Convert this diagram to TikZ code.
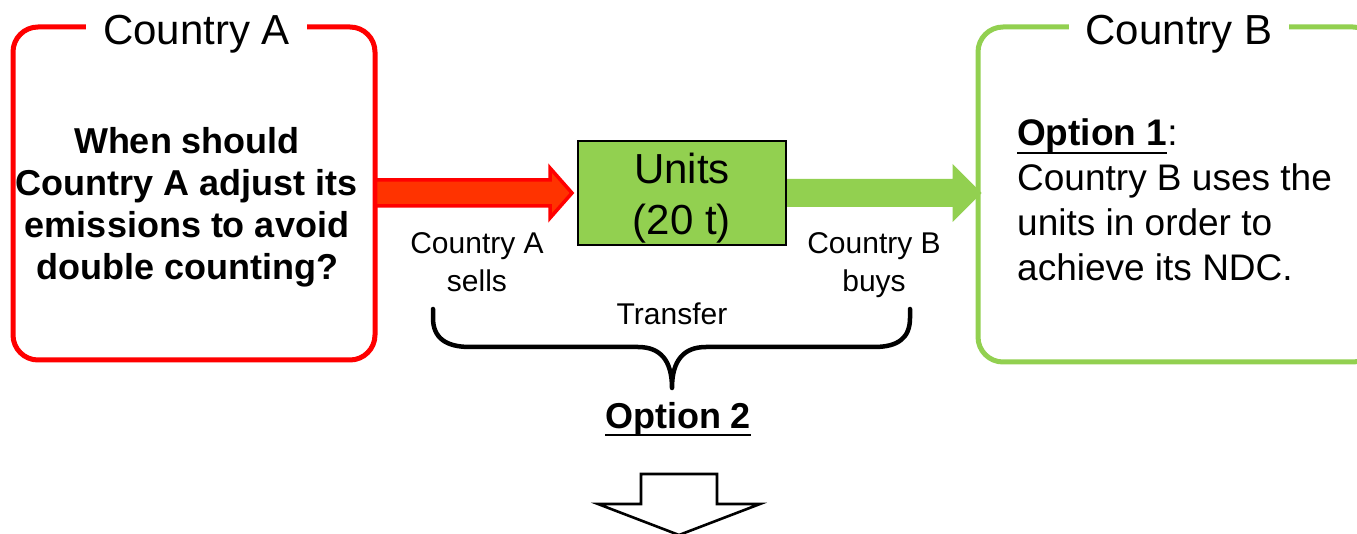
\documentclass[tikz,border=0pt]{standalone}
\usepackage{fontspec}
\setmainfont{Liberation Sans}
\usetikzlibrary{calc}
\definecolor{cred}{HTML}{FF0000}
\definecolor{corange}{HTML}{FF3300}
\definecolor{cgreen}{HTML}{92D050}
\newcommand{\fsz}[2]{\fontsize{#1}{#2}\selectfont}
% thick underline at a fixed depth below the baseline
\newcommand{\ulined}[1]{\setbox0\hbox{#1}\rlap{\rule[-8.5pt]{\wd0}{2.6pt}}\box0}

\begin{document}
\begin{tikzpicture}[x=1pt,y=-1pt,
  countrybox/.style={draw, line width=5pt, rounded corners=25pt, fill=white},
  titletext/.style={fill=white, inner xsep=17pt, inner ysep=2pt, font=\fsz{42}{50}},
  smalltext/.style={font=\fsz{30}{38.5}, align=center, anchor=base, inner sep=0pt},
  boldtext/.style={font=\bfseries\fsz{36}{42}},
  unitbox/.style={draw=black, line width=2pt, fill=cgreen, minimum width=208pt, minimum height=104pt, inner sep=0pt},
  bracestroke/.style={line width=4.5pt, line cap=round, line join=round}
]
\useasboundingbox (0,0) rectangle (1357,534);

% country frames
\node[countrybox, draw=cred, minimum width=362pt, minimum height=333pt] (boxA) at (194,193.5) {};
\node[countrybox, draw=cgreen, minimum width=400pt, minimum height=335pt] (boxB) at (1178,194.5) {};

% traded units
\node[unitbox] (units) at (682,193) {};

% sale arrow: Country A -> units
\coordinate (redtail) at (boxA.east |- units.west);
\filldraw[draw=cred, fill=corange, line width=3.5pt, line join=miter]
  ($(redtail)+(-2,-13)$) -- ($(units.west)+(-27,-13)$) -- ($(units.west)+(-27,-25)$)
  -- ($(units.west)+(-5,0)$) -- ($(units.west)+(-27,25)$) -- ($(units.west)+(-27,13)$)
  -- ($(redtail)+(-2,13)$) -- cycle;

% purchase arrow: units -> Country B
\coordinate (greentip) at ($(boxB.west |- units.east)+(6,0)$);
\fill[cgreen]
  ($(units.east)+(0,-14)$) -- ($(greentip)+(-29,-14)$) -- ($(greentip)+(-29,-29)$)
  -- (greentip) -- ($(greentip)+(-29,29)$) -- ($(greentip)+(-29,14)$)
  -- ($(units.east)+(0,14)$) -- cycle;

% frame titles
\node[titletext, anchor=base] (titleA) at (196.5,45) {Country A};
\node[titletext, anchor=base] (titleB) at (1179,45) {Country B};

% frame contents (multi-line nodes are anchored at the last baseline)
\node[boldtext, align=center, anchor=base, inner sep=0pt] (question) at (187,280)
  {When should\\Country A adjust its\\emissions to avoid\\double counting?};
\node[font=\fsz{37}{45}, align=left, anchor=base west, inner sep=0pt] (option1) at (1017,281)
  {\ulined{\bfseries Option 1}:\\Country B uses the\\units in order to\\achieve its NDC.};

\node[font=\fsz{42}{51}, align=center, anchor=base, inner sep=0pt] (unitslabel) at (682,235)
  {Units\\(20 t)};

% transaction labels
\node[smalltext] (sells) at (477,292) {Country A\\sells};
\node[smalltext] (buys) at (874,292) {Country B\\buys};
\node[smalltext] (transfer) at (672,325) {Transfer};

% brace spanning the transfer
\coordinate (braceL) at (433,309);
\coordinate (braceR) at (910,309);
\coordinate (braceTip) at (672,388);
\draw[bracestroke]
  (braceL) -- (433,318) .. controls (433,338) and (446,347) .. (470,347)
  -- (638,347) .. controls (660,347) and (672,360) .. (braceTip)
  .. controls (672,360) and (684,347) .. (706,347)
  -- (874,347) .. controls (898,347) and (910,338) .. (910,318) -- (braceR);

\node[boldtext, anchor=base, inner sep=0pt] (option2) at (678,428) {\ulined{Option 2}};

% hollow arrow pointing down
\coordinate (drop) at (679,474);
\draw[line width=2.6pt, fill=white, line join=miter]
  ($(drop)+(-38,0)$) -- ($(drop)+(38,0)$) -- ($(drop)+(38,30)$) -- ($(drop)+(81,30)$)
  -- ($(drop)+(0,61)$) -- ($(drop)+(-81,30)$) -- ($(drop)+(-38,30)$) -- cycle;
\end{tikzpicture}
\end{document}
